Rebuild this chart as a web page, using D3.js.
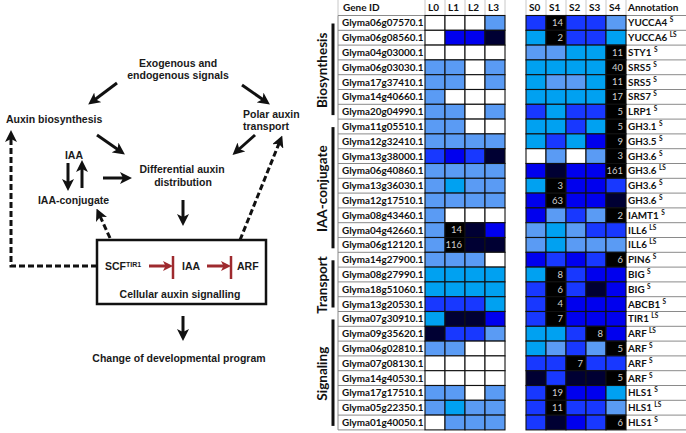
<!DOCTYPE html>
<html><head><meta charset="utf-8">
<script src="https://cdn.jsdelivr.net/npm/d3@7/dist/d3.min.js"></script>
<style>body{margin:0;background:#fff}svg{display:block}</style>
</head><body>
<script>
// ---------------- DATA ----------------
const genes = ["Glyma06g07570.1","Glyma06g08560.1","Glyma04g03000.1","Glyma06g03030.1","Glyma17g37410.1","Glyma14g40660.1","Glyma20g04990.1",
"Glyma11g05510.1","Glyma12g32410.1","Glyma13g38000.1","Glyma06g40860.1","Glyma13g36030.1","Glyma12g17510.1","Glyma08g43460.1","Glyma04g42660.1","Glyma06g12120.1",
"Glyma14g27900.1","Glyma08g27990.1","Glyma18g51060.1","Glyma13g20530.1",
"Glyma07g30910.1","Glyma09g35620.1","Glyma06g02810.1","Glyma07g08130.1","Glyma14g40530.1","Glyma17g17510.1","Glyma05g22350.1","Glyma01g40050.1"];
const groupNames = ["Biosynthesis","IAA-conjugate","Transport","Signaling"];
const groupSizes = [7, 9, 4, 8];
const annotations = ["YUCCA4","YUCCA6","STY1","SRS5","SRS5","SRS7","LRP1","GH3.1","GH3.5","GH3.6","GH3.6","GH3.6","GH3.6","IAMT1","ILL6","ILL6","PIN6","BIG","BIG","ABCB1","TIR1","ARF","ARF","ARF","ARF","HLS1","HLS1","HLS1"];
const annotationTags = ["S","LS","S","S","S","S","S","S","S","S","LS","S","S","S","LS","LS","S","S","S","S","LS","LS","S","S","S","S","LS","S"];
const lColumns = ["L0","L1","L2","L3"];
const sColumns = ["S0","S1","S2","S3","S4"];
// expression level classes: 0 white, 1 light blue, 2 sky blue, 3 medium blue, 4 blue, 5 navy, 6 black (highest, value shown)
const levelColors = ["#ffffff","#5a9bf4","#00a1f1","#1838ff","#0000ee","#000033","#000000"];
const lLevels = [
[0,0,0,1],[0,4,4,5],[0,0,0,0],[1,1,0,1],[1,1,0,1],[1,0,0,0],[1,1,0,1],
[1,1,0,0],[1,1,1,1],[3,4,3,5],[1,1,1,1],[1,2,1,1],[1,1,1,1],[1,0,0,0],[1,6,5,4],[1,6,5,5],
[1,1,1,0],[2,2,2,2],[2,2,2,2],[3,3,3,2],
[2,5,5,4],[5,3,3,1],[1,1,0,0],[0,0,0,0],[0,0,0,0],[1,1,0,1],[1,2,1,1],[0,1,1,1]];
const sLevels = [
[3,6,3,3,1],[2,6,3,3,2],[1,1,2,2,6],[2,2,2,2,6],[2,1,1,2,6],[2,2,2,2,6],[3,2,3,3,6],
[2,2,3,2,6],[2,3,2,4,6],[0,1,0,1,6],[4,5,4,4,6],[2,6,4,4,3],[4,6,4,4,5],[4,1,3,1,6],[1,2,1,3,3],[1,2,1,1,1],
[4,3,4,3,6],[2,6,3,4,4],[3,6,3,5,4],[3,6,4,4,4],
[3,6,4,4,4],[2,2,3,6,4],[2,1,3,1,6],[3,3,6,3,3],[5,3,5,5,6],[3,6,4,4,2],[3,6,3,3,1],[3,5,4,3,6]];
// fold-change values printed in black cells
const lValues = [
[null,null,null,null],[null,null,null,null],[null,null,null,null],[null,null,null,null],[null,null,null,null],[null,null,null,null],[null,null,null,null],
[null,null,null,null],[null,null,null,null],[null,null,null,null],[null,null,null,null],[null,null,null,null],[null,null,null,null],[null,null,null,null],[null,14,null,null],[null,116,null,null],
[null,null,null,null],[null,null,null,null],[null,null,null,null],[null,null,null,null],
[null,null,null,null],[null,null,null,null],[null,null,null,null],[null,null,null,null],[null,null,null,null],[null,null,null,null],[null,null,null,null],[null,null,null,null]];
const sValues = [
[null,14,null,null,null],[null,2,null,null,null],[null,null,null,null,11],[null,null,null,null,40],[null,null,null,null,11],[null,null,null,null,17],[null,null,null,null,5],
[null,null,null,null,5],[null,null,null,null,9],[null,null,null,null,3],[null,null,null,null,161],[null,3,null,null,null],[null,63,null,null,null],[null,null,null,null,2],[null,null,null,null,null],[null,null,null,null,null],
[null,null,null,null,6],[null,8,null,null,null],[null,6,null,null,null],[null,4,null,null,null],
[null,7,null,null,null],[null,null,null,8,null],[null,null,null,null,5],[null,null,7,null,null],[null,null,null,null,5],[null,19,null,null,null],[null,11,null,null,null],[null,null,null,null,6]];

// ---------------- SVG ----------------
const W = 686, H = 433;
const svg = d3.select("body").append("svg").attr("width", W).attr("height", H);

// ====== LEFT: auxin pathway diagram ======
const defs = svg.append("defs");
defs.append("marker").attr("id","ah").attr("viewBox","0 0 10 10").attr("refX",5).attr("refY",5)
  .attr("markerWidth",12).attr("markerHeight",12).attr("markerUnits","userSpaceOnUse").attr("orient","auto")
  .append("path").attr("d","M0,0 L10,5 L0,10 L2.5,5 z").attr("fill","#111");
defs.append("marker").attr("id","ahr").attr("viewBox","0 0 10 10").attr("refX",6).attr("refY",5)
  .attr("markerWidth",10).attr("markerHeight",10).attr("markerUnits","userSpaceOnUse").attr("orient","auto")
  .append("path").attr("d","M0,0 L10,5 L0,10 L2.5,5 z").attr("fill","#9e2a2e");

const dg = svg.append("g").attr("font-family","'Liberation Sans', Arial, sans-serif").attr("font-weight","bold")
  .attr("font-size","10.5px").attr("fill","#1a1a1a");
const txt = (x,y,s,anchor="middle") => dg.append("text").attr("x",x).attr("y",y).attr("text-anchor",anchor).text(s);
txt(178,66.5,"Exogenous and");
txt(178,79,"endogenous signals");
txt(6,123,"Auxin biosynthesis","start");
txt(243,118,"Polar auxin","start");
txt(243,130,"transport","start");
txt(74,159,"IAA");
txt(182,173,"Differential auxin");
txt(183,186,"distribution");
txt(73.5,204,"IAA-conjugate");
txt(180,298,"Cellular auxin signalling");
txt(179,362,"Change of developmental program");
const scf = dg.append("text").attr("x",105).attr("y",270);
scf.append("tspan").text("SCF");
scf.append("tspan").attr("font-size","7px").attr("dy",-3).text("TIR1");
txt(182,270,"IAA","start");
txt(237,270,"ARF","start");

dg.append("rect").attr("x",97).attr("y",240).attr("width",169).attr("height",64)
  .attr("fill","none").attr("stroke","#111").attr("stroke-width",2.5);

const arrow = (x1,y1,x2,y2) => svg.append("line").attr("x1",x1).attr("y1",y1).attr("x2",x2).attr("y2",y2)
  .attr("stroke","#111").attr("stroke-width",3).attr("marker-end","url(#ah)");
arrow(117,83,93,101);
arrow(242,85,265,101);
arrow(97,135,120,151);
arrow(255,135,237,151);
arrow(68,163,68,185);
arrow(82,188,82,166);
arrow(103,178,126,178);
arrow(183,200,183,220);
arrow(183,316,183,335);
const dashed = d => svg.append("path").attr("d",d).attr("fill","none").attr("stroke","#111")
  .attr("stroke-width",3).attr("stroke-dasharray","6,3").attr("marker-end","url(#ah)");
dashed("M97,266 H11 V136");
dashed("M110,238 L99,214");
dashed("M240,240 L280,141");
// inhibition symbols
[[149,169,173],[207,227,231]].forEach(([a,b,c]) => {
  svg.append("line").attr("x1",a).attr("y1",266).attr("x2",b).attr("y2",266)
    .attr("stroke","#9e2a2e").attr("stroke-width",3).attr("marker-end","url(#ahr)");
  svg.append("line").attr("x1",c).attr("y1",256).attr("x2",c).attr("y2",279)
    .attr("stroke","#9e2a2e").attr("stroke-width",2.5);
});

// ====== RIGHT: heatmap table ======
const color = d3.scaleOrdinal().domain(d3.range(levelColors.length)).range(levelColors);
const y = d3.scaleBand().domain(d3.range(genes.length)).range([15.5, 429.9]);
const xL = d3.scaleBand().domain(lColumns).range([425, 505]);
const xS = d3.scaleBand().domain(sColumns).range([526, 626]);
const geneX0 = 338, geneX1 = 425, annX0 = 626, annX1 = 686;
const tg = svg.append("g").attr("font-family","Lato, 'Open Sans', sans-serif");

// header
const hdr = tg.append("g").attr("font-weight","bold").attr("font-size","10px").attr("fill","#111");
hdr.append("text").attr("x",geneX0+5).attr("y",11).text("Gene ID");
lColumns.forEach(c => hdr.append("text").attr("x",xL(c)+3).attr("y",11).text(c));
sColumns.forEach(c => hdr.append("text").attr("x",xS(c)+3).attr("y",11).text(c));
hdr.append("text").attr("x",annX0+2).attr("y",11).text("Annotation");
const hx = [geneX0, ...lColumns.map(c=>xL(c)), xL.range()[1], ...sColumns.map(c=>xS(c)), annX0];
hx.forEach(x => tg.append("line").attr("x1",x).attr("x2",x).attr("y1",0).attr("y2",y.range()[0]).attr("stroke","#c8c8c8"));

// gene id & annotation gridlines
const rowEdges = d3.range(genes.length+1).map(i => y.range()[0] + i*y.bandwidth());
rowEdges.forEach(e => {
  tg.append("line").attr("x1",geneX0).attr("x2",geneX1).attr("y1",e).attr("y2",e).attr("stroke","#8a8a8a");
  tg.append("line").attr("x1",annX0).attr("x2",annX1).attr("y1",e).attr("y2",e).attr("stroke","#8a8a8a");
});
tg.append("line").attr("x1",geneX0).attr("x2",geneX0).attr("y1",y.range()[0]).attr("y2",y.range()[1]).attr("stroke","#8a8a8a");

// gene ids
tg.append("g").attr("font-weight","bold").attr("font-size","9.9px").attr("fill","#111")
  .selectAll("text").data(genes).join("text")
  .attr("x",geneX0+4).attr("y",(d,i)=>y(i)+y.bandwidth()/2+3.5).text(d=>d);

// annotations
const ann = tg.append("g").attr("font-weight","bold").attr("font-size","9.9px").attr("fill","#111")
  .selectAll("text").data(annotations).join("text")
  .attr("x",annX0+2).attr("y",(d,i)=>y(i)+y.bandwidth()/2+3.5);
ann.append("tspan").text(d=>d+" ");
ann.append("tspan").attr("font-size","6.5px").attr("dy",-4).text((d,i)=>annotationTags[i]);

// cells
function drawBlock(levels, values, cols, xs) {
  const cells = [];
  levels.forEach((row,i) => row.forEach((lv,j) => cells.push({i, col: cols[j], lv, v: values[i][j]})));
  const g = tg.append("g");
  g.selectAll("rect").data(cells).join("rect")
    .attr("x",d=>xs(d.col)).attr("y",d=>y(d.i))
    .attr("width",xs.bandwidth()).attr("height",y.bandwidth())
    .attr("fill",d=>color(d.lv)).attr("stroke","#111").attr("stroke-width",1.1);
  g.selectAll("text").data(cells.filter(d=>d.v!=null)).join("text")
    .attr("x",d=>xs(d.col)+xs.bandwidth()-3).attr("y",d=>y(d.i)+y.bandwidth()/2+3.3)
    .attr("text-anchor","end").attr("font-size","9.5px").attr("fill","#cfcfcf").text(d=>d.v);
}
drawBlock(lLevels, lValues, lColumns, xL);
drawBlock(sLevels, sValues, sColumns, xS);

// group brackets and labels
let start = 0;
groupNames.forEach((name,k) => {
  const top = y(start), bot = y(start+groupSizes[k]-1) + y.bandwidth();
  tg.append("rect").attr("x",331.5).attr("y",top+8).attr("width",3).attr("height",bot-top-12).attr("fill","#111");
  tg.append("text").attr("transform",`translate(326.5,${(top+bot)/2+3}) rotate(-90)`)
    .attr("text-anchor","middle").attr("font-weight","bold").attr("font-size","13.5px").attr("fill","#111").text(name);
  start += groupSizes[k];
});
</script>
</body></html>
